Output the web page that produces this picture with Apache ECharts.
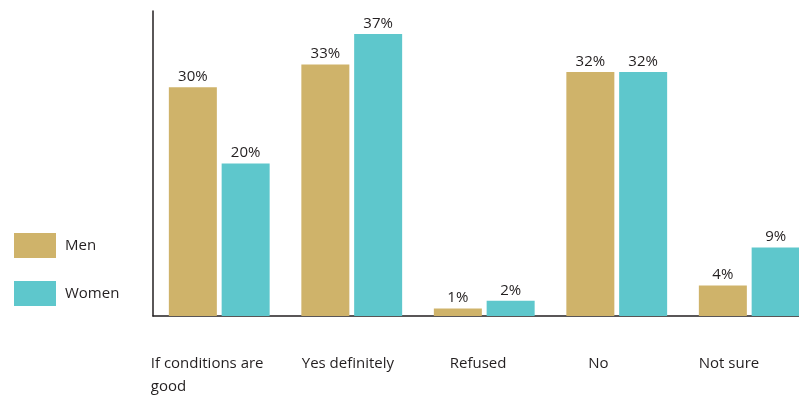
<!DOCTYPE html>
<html>
<head>
<meta charset="utf-8">
<script src="https://cdn.jsdelivr.net/npm/echarts@6/dist/echarts.min.js"></script>
<style>html,body{margin:0;padding:0;background:#fff;overflow:hidden;width:799px;height:395px}#c{width:816px;height:395px}</style>
</head>
<body>
<div id="c"></div>
<script>
var categories = ["If conditions are\ngood", "Yes definitely", "Refused", "No", "Not sure"];
var men = [30, 33, 1, 32, 4];
var women = [20, 37, 2, 32, 9];
var seriesNames = ["Men", "Women"];
var labelBoxWidths = [137, 100, 69, 57, 101];

var chart = echarts.init(document.getElementById('c'));
var font = "'Open Sans', 'Noto Sans', sans-serif";
var rich = {};
labelBoxWidths.forEach(function (w, i) {
  rich['l' + i] = { width: w, align: 'left', fontSize: 15, lineHeight: 23, color: '#231f20', fontFamily: font };
});
chart.setOption({
  animation: false,
  textStyle: { fontFamily: font },
  legend: {
    orient: 'vertical', left: 14, top: 233, padding: 0, itemWidth: 42, itemHeight: 25, itemGap: 23,
    icon: 'rect', textStyle: { fontSize: 15, color: '#231f20', padding: [0, 0, 0, 4] },
    data: seriesNames
  },
  grid: { left: 153, top: 11, right: 0.5, bottom: 79, containLabel: false },
  xAxis: {
    type: 'category', data: categories,
    axisLine: { lineStyle: { color: '#231f20', width: 1.5 } },
    axisTick: { show: false },
    axisLabel: {
      margin: 36, interval: 0,
      formatter: function (v, i) {
        return v.split('\n').map(function (s) { return '{l' + i + '|' + s + '}'; }).join('\n');
      },
      rich: rich
    }
  },
  yAxis: {
    type: 'value', min: 0, max: 40,
    axisLine: { show: true, lineStyle: { color: '#231f20', width: 1.5 } },
    axisTick: { show: false }, axisLabel: { show: false }, splitLine: { show: false }
  },
  series: [
    { name: seriesNames[0], type: 'bar', data: men, barWidth: 48, barGap: '10%',
      itemStyle: { color: '#cfb36a' },
      label: { show: true, position: 'top', distance: 3, formatter: '{c}%', fontSize: 15, color: '#231f20' } },
    { name: seriesNames[1], type: 'bar', data: women, barWidth: 48,
      itemStyle: { color: '#5ec7cc' },
      label: { show: true, position: 'top', distance: 3, formatter: '{c}%', fontSize: 15, color: '#231f20' } }
  ]
});
</script>
</body>
</html>
